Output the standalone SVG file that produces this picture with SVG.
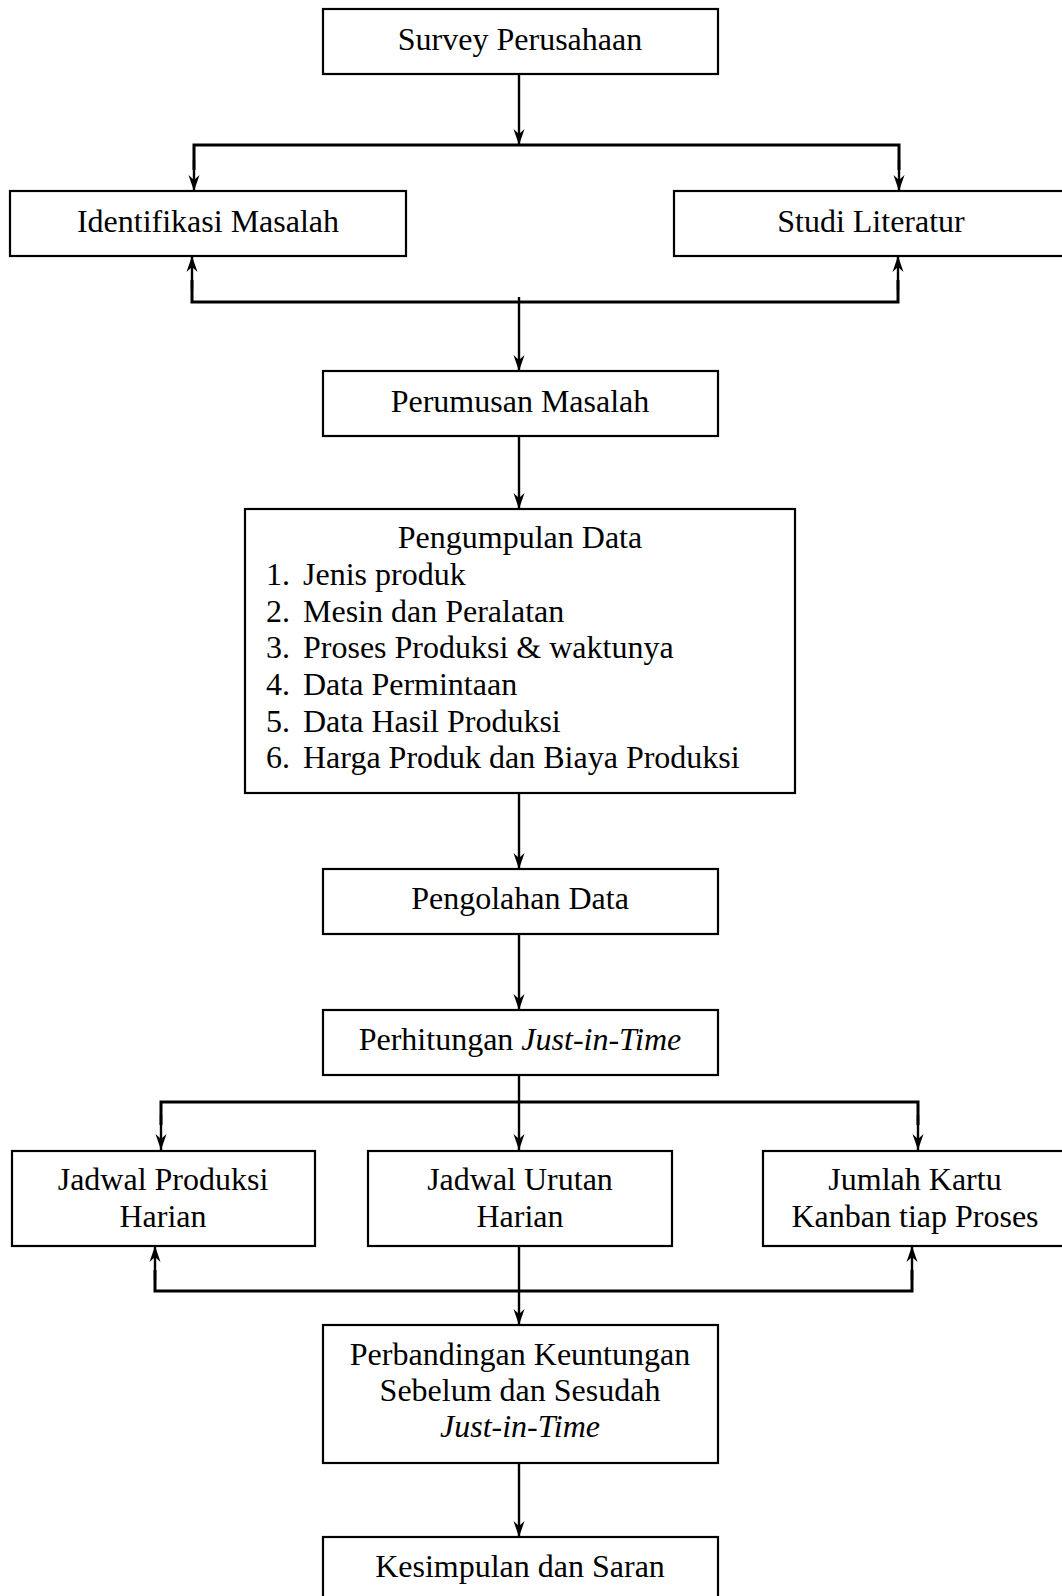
<svg xmlns="http://www.w3.org/2000/svg" width="1062" height="1596" viewBox="0 0 1062 1596">
<style>
.box{fill:#fff;stroke:#000;stroke-width:2.2}
.t{font-family:"Liberation Serif","Times New Roman",serif;font-size:32px;fill:#000}
.c{text-anchor:middle}
.i{font-style:italic}
.ln{fill:none;stroke:#000;stroke-width:2.4}
.hl{fill:none;stroke:#000;stroke-width:3}
</style>
<defs>
<marker id="ah" viewBox="-17 -6 18 12" markerWidth="18" markerHeight="12" refX="0" refY="0" orient="auto" markerUnits="userSpaceOnUse">
<path d="M0,0 L-16,-5.5 L-11,0 L-16,5.5 Z" fill="#000"/>
</marker>
</defs>
<rect width="1062" height="1596" fill="#fff"/>

<g id="connectors">
<line class="ln" x1="519" y1="74" x2="519" y2="145" marker-end="url(#ah)"/>
<polyline class="hl" points="194,170 194,145 899,145 899,170"/>
<line class="ln" x1="194" y1="160" x2="194" y2="191" marker-end="url(#ah)"/>
<line class="ln" x1="899" y1="160" x2="899" y2="191" marker-end="url(#ah)"/>
<polyline class="hl" points="192,280 192,302 898,302 898,280"/>
<line class="ln" x1="192" y1="290" x2="192" y2="256" marker-end="url(#ah)"/>
<line class="ln" x1="898" y1="290" x2="898" y2="256" marker-end="url(#ah)"/>
<line class="ln" x1="519" y1="297" x2="519" y2="371" marker-end="url(#ah)"/>
<line class="ln" x1="519" y1="436" x2="519" y2="509" marker-end="url(#ah)"/>
<line class="ln" x1="519" y1="793" x2="519" y2="869" marker-end="url(#ah)"/>
<line class="ln" x1="519" y1="934" x2="519" y2="1010" marker-end="url(#ah)"/>
<line class="ln" x1="519" y1="1075" x2="519" y2="1150" marker-end="url(#ah)"/>
<polyline class="hl" points="161,1125 161,1102 918,1102 918,1125"/>
<line class="ln" x1="161" y1="1115" x2="161" y2="1150" marker-end="url(#ah)"/>
<line class="ln" x1="918" y1="1115" x2="918" y2="1150" marker-end="url(#ah)"/>
<line class="ln" x1="519" y1="1246" x2="519" y2="1325" marker-end="url(#ah)"/>
<polyline class="hl" points="155,1270 155,1291 912,1291 912,1270"/>
<line class="ln" x1="155" y1="1280" x2="155" y2="1246" marker-end="url(#ah)"/>
<line class="ln" x1="912" y1="1280" x2="912" y2="1246" marker-end="url(#ah)"/>
<line class="ln" x1="519" y1="1463" x2="519" y2="1537" marker-end="url(#ah)"/>
</g>

<g id="survey">
<rect class="box" x="323" y="9" width="395" height="65"/>
<text class="t c" x="520" y="50">Survey Perusahaan</text>
</g>
<g id="identifikasi">
<rect class="box" x="10" y="191" width="396" height="65"/>
<text class="t c" x="208" y="232">Identifikasi Masalah</text>
</g>
<g id="studi">
<rect class="box" x="674" y="191" width="400" height="65"/>
<text class="t c" x="871" y="232">Studi Literatur</text>
</g>
<g id="perumusan">
<rect class="box" x="323" y="371" width="395" height="65"/>
<text class="t c" x="520" y="412">Perumusan Masalah</text>
</g>
<g id="pengumpulan">
<rect class="box" x="245" y="509" width="550" height="284"/>
<text class="t c" x="520" y="548">Pengumpulan Data</text>
<text class="t" x="266" y="585">1.</text><text class="t" x="303" y="585">Jenis produk</text>
<text class="t" x="266" y="622">2.</text><text class="t" x="303" y="622">Mesin dan Peralatan</text>
<text class="t" x="266" y="658">3.</text><text class="t" x="303" y="658">Proses Produksi &amp; waktunya</text>
<text class="t" x="266" y="695">4.</text><text class="t" x="303" y="695">Data Permintaan</text>
<text class="t" x="266" y="732">5.</text><text class="t" x="303" y="732">Data Hasil Produksi</text>
<text class="t" x="266" y="768">6.</text><text class="t" x="303" y="768">Harga Produk dan Biaya Produksi</text>
</g>
<g id="pengolahan">
<rect class="box" x="323" y="869" width="395" height="65"/>
<text class="t c" x="520" y="909">Pengolahan Data</text>
</g>
<g id="perhitungan">
<rect class="box" x="323" y="1010" width="395" height="65"/>
<text class="t c" x="520" y="1050">Perhitungan <tspan class="i">Just-in-Time</tspan></text>
</g>
<g id="jadwal-produksi">
<rect class="box" x="12" y="1151" width="303" height="95"/>
<text class="t c" x="163" y="1190">Jadwal Produksi</text>
<text class="t c" x="163" y="1227">Harian</text>
</g>
<g id="jadwal-urutan">
<rect class="box" x="368" y="1151" width="304" height="95"/>
<text class="t c" x="520" y="1190">Jadwal Urutan</text>
<text class="t c" x="520" y="1227">Harian</text>
</g>
<g id="jumlah-kartu">
<rect class="box" x="763" y="1151" width="310" height="95"/>
<text class="t c" x="915" y="1190">Jumlah Kartu</text>
<text class="t c" x="915" y="1227">Kanban tiap Proses</text>
</g>
<g id="perbandingan">
<rect class="box" x="323" y="1325" width="395" height="138"/>
<text class="t c" x="520" y="1365">Perbandingan Keuntungan</text>
<text class="t c" x="520" y="1401">Sebelum dan Sesudah</text>
<text class="t c i" x="520" y="1437">Just-in-Time</text>
</g>
<g id="kesimpulan">
<rect class="box" x="323" y="1537" width="395" height="80"/>
<text class="t c" x="520" y="1577">Kesimpulan dan Saran</text>
</g>
</svg>
